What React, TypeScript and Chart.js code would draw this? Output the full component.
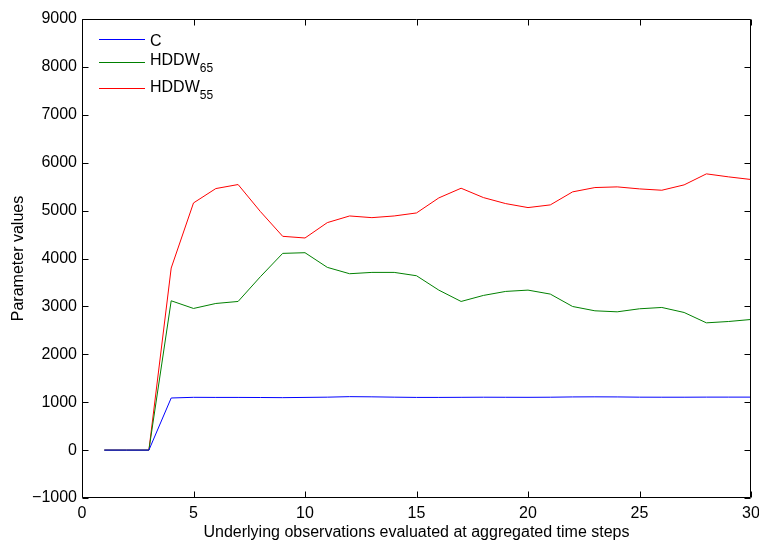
import React, { useEffect, useRef } from "react";
import { Chart, registerables } from "chart.js";

Chart.register(...registerables);

// Aggregated time steps 1..30
const steps = Array.from({ length: 30 }, (_, i) => i + 1);

const seriesC = [
  0, 0, 0, 1088, 1102, 1100, 1100, 1098, 1095, 1100, 1105, 1116, 1112, 1105, 1100,
  1100, 1102, 1104, 1103, 1102, 1104, 1110, 1112, 1110, 1105, 1104, 1104, 1106, 1106, 1106,
];
const seriesHDDW65 = [
  0, 0, 0, 3117, 2957, 3061, 3103, 3620, 4107, 4121, 3815, 3682, 3710, 3710, 3640,
  3340, 3103, 3229, 3313, 3340, 3257, 2998, 2908, 2887, 2950, 2978, 2873, 2657, 2685, 2727,
];
const seriesHDDW55 = [
  0, 0, 0, 3801, 5160, 5460, 5544, 4980, 4463, 4428, 4749, 4888, 4853, 4888, 4951,
  5265, 5467, 5272, 5146, 5063, 5119, 5391, 5481, 5495, 5453, 5425, 5537, 5767, 5704, 5649,
];

const legendItems = [
  { name: "C", sub: "", color: "#0000ff" },
  { name: "HDDW", sub: "65", color: "#008000" },
  { name: "HDDW", sub: "55", color: "#ff0000" },
];

const FONT = "'Liberation Sans', Arial, Helvetica, sans-serif";
const FONT_SIZE = 16;

// Box around the plot with inward tick marks on all four sides
const boxPlugin = {
  id: "matlabBox",
  afterDatasetsDraw(chart: any) {
    const { ctx, chartArea } = chart;
    const { left, right, top, bottom } = chartArea;
    const xs = chart.scales.x;
    const ys = chart.scales.y;
    const tl = 6;
    ctx.save();
    ctx.strokeStyle = "#000";
    ctx.lineWidth = 1;
    ctx.beginPath();
    const L = Math.round(left) + 0.5;
    const R = Math.round(right) - 0.5;
    const T = Math.round(top) + 0.5;
    const B = Math.round(bottom) - 0.5;
    ctx.rect(L, T, R - L, B - T);
    xs.ticks.forEach((t: any) => {
      const px = Math.round(xs.getPixelForValue(t.value)) + 0.5;
      ctx.moveTo(px, B);
      ctx.lineTo(px, B - tl);
      ctx.moveTo(px, T);
      ctx.lineTo(px, T + tl);
    });
    ys.ticks.forEach((t: any) => {
      const py = Math.round(ys.getPixelForValue(t.value)) + 0.5;
      ctx.moveTo(L, py);
      ctx.lineTo(L + tl, py);
      ctx.moveTo(R, py);
      ctx.lineTo(R - tl, py);
    });
    ctx.stroke();
    ctx.restore();
  },
};

// Legend inside the upper-left corner, with subscripted labels
const legendPlugin = {
  id: "subscriptLegend",
  afterDraw(chart: any) {
    const { ctx, chartArea } = chart;
    const x0 = chartArea.left + 17;
    const x1 = x0 + 46;
    const rows = [
      { lineY: 39.5, base: 46 },
      { lineY: 62.5, base: 65 },
      { lineY: 88.5, base: 92 },
    ];
    ctx.save();
    legendItems.forEach((item, i) => {
      const r = rows[i];
      ctx.strokeStyle = item.color;
      ctx.lineWidth = 1;
      ctx.beginPath();
      ctx.moveTo(x0, r.lineY);
      ctx.lineTo(x1, r.lineY);
      ctx.stroke();
      ctx.fillStyle = "#000";
      ctx.textBaseline = "alphabetic";
      ctx.textAlign = "left";
      ctx.font = `${FONT_SIZE}px ${FONT}`;
      const tx = x1 + 5;
      ctx.fillText(item.name, tx, r.base);
      if (item.sub) {
        const w = ctx.measureText(item.name).width;
        ctx.font = `12px ${FONT}`;
        ctx.fillText(item.sub, tx + w, r.base + 7);
      }
    });
    ctx.restore();
  },
};

export default function App() {
  const canvasRef = useRef<HTMLCanvasElement>(null);

  useEffect(() => {
    const canvas = canvasRef.current;
    if (!canvas) return;
    const mk = (vals: number[]) => steps.map((s, i) => ({ x: s, y: vals[i] }));
    const chart = new Chart(canvas, {
      type: "line",
      data: {
        datasets: [
          { label: "C", data: mk(seriesC), borderColor: "#0000ff", borderWidth: 1, pointRadius: 0, tension: 0, fill: false },
          { label: "HDDW65", data: mk(seriesHDDW65), borderColor: "#008000", borderWidth: 1, pointRadius: 0, tension: 0, fill: false },
          { label: "HDDW55", data: mk(seriesHDDW55), borderColor: "#ff0000", borderWidth: 1, pointRadius: 0, tension: 0, fill: false },
        ],
      },
      options: {
        responsive: false,
        animation: false,
        devicePixelRatio: 1,
        layout: { padding: { top: 19, right: 8, left: 0, bottom: 0 } },
        plugins: { legend: { display: false }, tooltip: { enabled: false } },
        scales: {
          x: {
            type: "linear",
            min: 0,
            max: 30,
            ticks: {
              stepSize: 5,
              color: "#000",
              padding: 6,
              maxRotation: 0,
              font: { family: FONT, size: FONT_SIZE },
            },
            grid: { display: false, drawTicks: false },
            border: { display: false },
            title: {
              display: true,
              text: "Underlying observations evaluated at aggregated time steps",
              color: "#000",
              font: { family: FONT, size: FONT_SIZE },
              padding: { top: 0, bottom: -2 },
            },
            afterFit: (s: any) => {
              s.height = 42;
              s.paddingRight = 0;
            },
          },
          y: {
            type: "linear",
            min: -1000,
            max: 9000,
            ticks: {
              stepSize: 1000,
              color: "#000",
              padding: 5,
              font: { family: FONT, size: FONT_SIZE },
              callback: (v: any) => (Number(v) < 0 ? "\u2212" + Math.abs(Number(v)) : String(v)),
            },
            grid: { display: false, drawTicks: false },
            border: { display: false },
            title: {
              display: true,
              text: "Parameter values",
              color: "#000",
              font: { family: FONT, size: FONT_SIZE },
              padding: { top: 9, bottom: 0 },
            },
            afterFit: (s: any) => {
              s.width = 82;
            },
          },
        },
      },
      plugins: [boxPlugin, legendPlugin],
    });
    return () => chart.destroy();
  }, []);

  return (
    <div style={{ position: "fixed", left: 0, top: 0, width: 759, height: 540, background: "#fff" }}>
      <canvas ref={canvasRef} width={759} height={540} />
    </div>
  );
}
